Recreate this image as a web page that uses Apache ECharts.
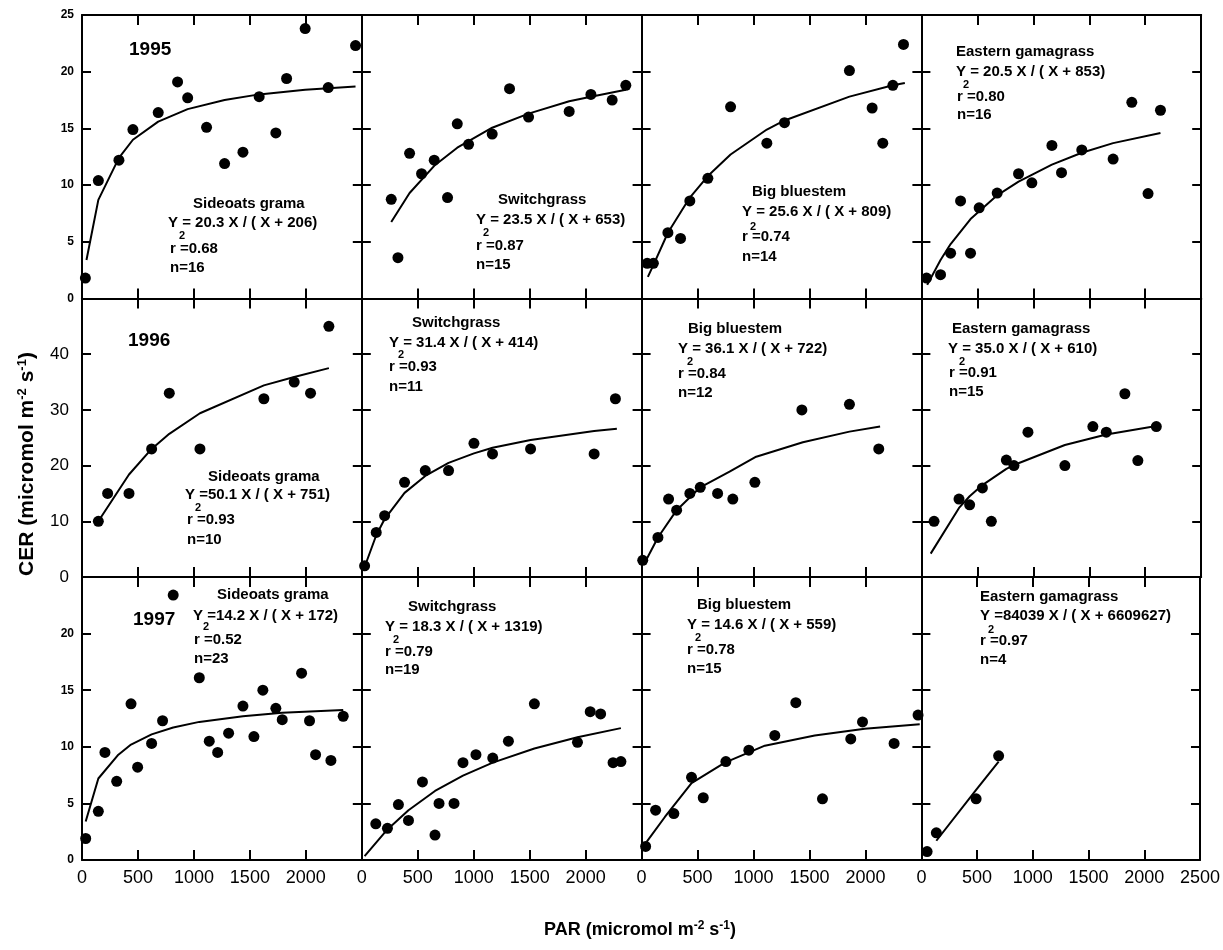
<!DOCTYPE html>
<html><head><meta charset="utf-8">
<script src="https://cdn.jsdelivr.net/npm/echarts@6/dist/echarts.min.js"></script>
<style>html,body{margin:0;padding:0;background:#fff}#c{width:1223px;height:950px}</style>
</head><body><div id="c"></div>
<script>
// ---------- DATA ----------
// 1995
const sg95X = [30, 146, 330, 455, 681, 854, 944, 1113, 1274, 1438, 1583, 1732, 1828, 1994, 2200, 2444];
const sg95Y = [1.8, 10.4, 12.2, 14.9, 16.4, 19.1, 17.7, 15.1, 11.9, 12.9, 17.8, 14.6, 19.4, 23.8, 18.6, 22.3];
const sg95FitX = [40, 146, 330, 455, 681, 944, 1274, 1583, 1994, 2444];
const sg95FitY = [3.4, 8.7, 12.4, 14.0, 15.6, 16.7, 17.5, 18.0, 18.4, 18.7];

const sw95X = [263, 323, 427, 534, 647, 766, 853, 954, 1165, 1320, 1490, 1853, 2047, 2237, 2359];
const sw95Y = [8.75, 3.6, 12.8, 11.0, 12.2, 8.9, 15.4, 13.6, 14.5, 18.5, 16.0, 16.5, 18.0, 17.5, 18.8];
const sw95FitX = [263, 427, 647, 853, 1165, 1490, 1853, 2047, 2359];
const sw95FitY = [6.75, 9.3, 11.7, 13.3, 15.06, 16.3, 17.4, 17.8, 18.4];

const bb95X = [50, 105, 235, 348, 431, 592, 795, 1119, 1277, 1857, 2060, 2155, 2245, 2340];
const bb95Y = [3.1, 3.1, 5.8, 5.3, 8.6, 10.6, 16.9, 13.7, 15.5, 20.1, 16.8, 13.7, 18.8, 22.4];
const bb95FitX = [56, 105, 235, 431, 592, 795, 1119, 1277, 1857, 2245, 2352];
const bb95FitY = [1.9, 2.95, 5.8, 8.9, 10.8, 12.7, 14.9, 15.7, 17.8, 18.8, 19.0];

const eg95X = [46, 171, 261, 350, 439, 516, 677, 868, 987, 1166, 1252, 1433, 1713, 1880, 2025, 2136];
const eg95Y = [1.8, 2.1, 4.0, 8.6, 4.0, 8.0, 9.3, 11.0, 10.2, 13.5, 11.1, 13.1, 12.3, 17.3, 9.25, 16.6];
const eg95FitX = [52, 171, 261, 439, 677, 868, 1166, 1433, 1713, 2136];
const eg95FitY = [1.2, 3.4, 4.8, 7.0, 9.1, 10.3, 11.8, 12.85, 13.7, 14.6];

// 1996
const sg96X = [146, 229, 420, 622, 780, 1054, 1625, 1896, 2042, 2206];
const sg96Y = [10, 15, 15, 23, 33, 23, 32, 35, 33, 45];
const sg96FitX = [146, 420, 622, 780, 1054, 1625, 1896, 2206];
const sg96FitY = [10, 18.4, 23, 25.7, 29.4, 34.4, 35.9, 37.5];

const sw96X = [25, 129, 204, 382, 567, 775, 1002, 1168, 1508, 2076, 2266];
const sw96Y = [2.0, 8.0, 11.0, 17.0, 19.1, 19.1, 24.0, 22.1, 23.0, 22.1, 32.0];
const sw96FitX = [25, 129, 204, 382, 567, 775, 1002, 1168, 1508, 2076, 2279];
const sw96FitY = [1.8, 7.5, 10.4, 15.1, 18.15, 20.5, 22.2, 23.2, 24.6, 26.2, 26.6];

const bb96X = [10, 146, 241, 313, 431, 524, 679, 815, 1012, 1432, 1857, 2119];
const bb96Y = [3, 7.1, 14, 12, 15, 16.1, 15, 14, 17, 30, 31, 23];
const bb96FitX = [27, 146, 313, 524, 786, 1024, 1441, 1857, 2131];
const bb96FitY = [2.5, 7.1, 12.0, 16.1, 18.9, 21.6, 24.2, 26.1, 27.0];

const eg96X = [113, 336, 431, 545, 625, 759, 827, 952, 1282, 1532, 1652, 1818, 1934, 2099];
const eg96Y = [10, 14, 12.95, 16, 10, 21, 20, 26, 20, 27, 26, 32.9, 20.9, 27];
const eg96FitX = [83, 336, 431, 545, 759, 827, 1282, 1652, 2099];
const eg96FitY = [4.2, 12.4, 14.5, 16.5, 19.4, 20.1, 23.7, 25.6, 27.1];

// 1997
const sg97X = [33, 146, 205, 310, 438, 497, 622, 720, 815, 1048, 1137, 1212, 1310, 1438, 1536, 1616, 1732, 1789, 1962, 2033, 2087, 2224, 2334];
const sg97Y = [1.9, 4.3, 9.5, 6.95, 13.8, 8.2, 10.3, 12.3, 23.4, 16.1, 10.5, 9.5, 11.2, 13.6, 10.9, 15.0, 13.4, 12.4, 16.5, 12.3, 9.3, 8.8, 12.7];
const sg97FitX = [33, 146, 325, 438, 622, 815, 1048, 1438, 1789, 2334];
const sg97FitY = [3.4, 7.2, 9.3, 10.2, 11.1, 11.7, 12.2, 12.7, 13.0, 13.25];

const sw97X = [125, 229, 327, 417, 542, 654, 690, 824, 904, 1020, 1170, 1310, 1542, 1927, 2041, 2134, 2245, 2315];
const sw97Y = [3.2, 2.8, 4.9, 3.5, 6.9, 2.2, 5.0, 5.0, 8.6, 9.3, 9.0, 10.5, 13.8, 10.4, 13.1, 12.9, 8.6, 8.7];
const sw97FitX = [25, 229, 417, 654, 904, 1170, 1542, 1927, 2315];
const sw97FitY = [0.35, 2.7, 4.4, 6.1, 7.45, 8.6, 9.85, 10.85, 11.65];

const bb97X = [36, 125, 288, 446, 551, 753, 958, 1190, 1378, 1616, 1869, 1974, 2256, 2470];
const bb97Y = [1.2, 4.4, 4.1, 7.3, 5.5, 8.7, 9.7, 11.0, 13.9, 5.4, 10.7, 12.2, 10.3, 12.8];
const bb97FitX = [45, 208, 446, 744, 1101, 1547, 1994, 2485];
const bb97FitY = [1.6, 3.8, 6.8, 8.6, 10.1, 11.0, 11.6, 12.0];

const eg97X = [51, 134, 491, 693];
const eg97Y = [0.74, 2.4, 5.4, 9.2];
const eg97FitX = [134, 491, 693];
const eg97FitY = [1.7, 6.2, 8.7];

// axis ticks
const xTicks = [0, 500, 1000, 1500, 2000, 2500];
const rowYMax = [25, 50, 25];
const rowYStep = [5, 10, 5];
const years = ['1995', '1996', '1997'];

// annotation texts
const speciesNames = ['Sideoats grama', 'Switchgrass', 'Big bluestem', 'Eastern gamagrass'];
const equations = ['Y = 20.3 X / ( X + 206)', 'Y = 23.5 X / ( X + 653)', 'Y = 25.6 X / ( X + 809)', 'Y = 20.5 X / ( X + 853)',
  'Y =50.1 X / ( X + 751)', 'Y = 31.4 X / ( X + 414)', 'Y = 36.1 X / ( X + 722)', 'Y = 35.0 X / ( X + 610)',
  'Y =14.2 X / ( X + 172)', 'Y = 18.3 X / ( X + 1319)', 'Y = 14.6 X / ( X + 559)', 'Y =84039 X / ( X + 6609627)'];
const rSquared = ['r =0.68', 'r =0.87', 'r =0.74', 'r =0.80', 'r =0.93', 'r =0.93', 'r =0.84', 'r =0.91', 'r =0.52', 'r =0.79', 'r =0.78', 'r =0.97'];
const nCounts = ['n=16', 'n=15', 'n=14', 'n=16', 'n=10', 'n=11', 'n=12', 'n=15', 'n=23', 'n=19', 'n=15', 'n=4'];

// ---------- LAYOUT ----------
const FONT = '"Liberation Sans", Arial, sans-serif';
const colLeft = [82, 361.8, 641.6, 921.4];
const colW = 279.8;
const rowTop = [15, 298.5, 577];
const rowBot = [298.5, 577, 860];
// [nameX, nameY, eqX, eqY, supX, supY, rX, rY, nY]
const annoPos = [
  [193, 204, 168, 223, 179, 236, 170, 249, 268],
  [498, 200, 476, 220, 483, 233, 476, 246, 265],
  [752, 192, 742, 212, 750, 227, 742, 237, 257],
  [956, 52, 956, 72, 963, 85, 957, 97, 115],
  [208, 477, 185, 495, 195, 508, 187, 520, 540],
  [412, 323, 389, 343, 398, 355, 389, 367, 387],
  [688, 329, 678, 349, 687, 362, 678, 374, 393],
  [952, 329, 948, 349, 959, 362, 949, 373, 392],
  [217, 595, 193, 616, 203, 627, 194, 640, 659],
  [408, 607, 385, 627, 393, 640, 385, 652, 670],
  [697, 605, 687, 625, 695, 638, 687, 650, 669],
  [980, 597, 980, 616, 988, 630, 980, 641, 660]
];
const yearPos = [[129, 50], [128, 341], [133, 620]];

const panels = [
  [sg95X, sg95Y, sg95FitX, sg95FitY], [sw95X, sw95Y, sw95FitX, sw95FitY], [bb95X, bb95Y, bb95FitX, bb95FitY], [eg95X, eg95Y, eg95FitX, eg95FitY],
  [sg96X, sg96Y, sg96FitX, sg96FitY], [sw96X, sw96Y, sw96FitX, sw96FitY], [bb96X, bb96Y, bb96FitX, bb96FitY], [eg96X, eg96Y, eg96FitX, eg96FitY],
  [sg97X, sg97Y, sg97FitX, sg97FitY], [sw97X, sw97Y, sw97FitX, sw97FitY], [bb97X, bb97Y, bb97FitX, bb97FitY], [eg97X, eg97Y, eg97FitX, eg97FitY]
];

const grid = [], xAxis = [], yAxis = [], series = [], graphic = [];
const lineStyle = { color: '#000', width: 2 };
const tickStyle = { color: '#000', width: 2 };
const plain = v => String(v);

for (let r = 0; r < 3; r++) {
  for (let c = 0; c < 4; c++) {
    const i = r * 4 + c;
    grid.push({ left: colLeft[c], top: rowTop[r], width: colW, height: rowBot[r] - rowTop[r] });
    const xBase = { gridIndex: i, type: 'value', min: xTicks[0], max: xTicks[xTicks.length - 1], interval: xTicks[1] - xTicks[0],
      axisLine: { show: true, onZero: false, lineStyle: lineStyle }, splitLine: { show: false },
      axisTick: { show: true, inside: true, length: 10, lineStyle: tickStyle } };
    xAxis.push(Object.assign({}, xBase, { position: 'bottom',
      axisLabel: { show: r === 2, color: '#000', fontFamily: FONT, fontSize: 18, margin: 9, showMaxLabel: c === 3, formatter: plain } }));
    xAxis.push(Object.assign({}, xBase, { position: 'top', axisLabel: { show: false } }));
    const yBase = { gridIndex: i, type: 'value', min: 0, max: rowYMax[r], interval: rowYStep[r],
      axisLine: { show: true, onZero: false, lineStyle: lineStyle }, splitLine: { show: false },
      axisTick: { show: true, inside: true, length: 9, lineStyle: tickStyle } };
    const yLab = r === 1
      ? { show: c === 0, color: '#000', fontFamily: FONT, fontSize: 17, margin: 13, showMaxLabel: false, formatter: plain }
      : { show: c === 0, color: '#000', fontFamily: FONT, fontSize: 12, fontWeight: 'bold', margin: 8, showMaxLabel: r === 0, formatter: plain };
    yAxis.push(Object.assign({}, yBase, { position: 'left', axisLabel: yLab }));
    yAxis.push(Object.assign({}, yBase, { position: 'right', axisLabel: { show: false } }));

    const p = panels[i];
    series.push({ type: 'line', xAxisIndex: i * 2, yAxisIndex: i * 2, data: p[2].map((x, k) => [x, p[3][k]]),
      showSymbol: false, symbol: 'none', lineStyle: { color: '#000', width: 2, opacity: 1 }, z: 3, silent: true });
    series.push({ type: 'scatter', xAxisIndex: i * 2, yAxisIndex: i * 2, data: p[0].map((x, k) => [x, p[1][k]]),
      symbol: 'circle', symbolSize: 11, itemStyle: { color: '#000', opacity: 1 }, z: 4, silent: true });

    // annotations
    const a = annoPos[i];
    const txt = (t, x, y, size) => ({ type: 'text', x: x, y: y, z: 10,
      style: { text: t, fill: '#000', font: 'bold ' + size + 'px ' + FONT, align: 'left', verticalAlign: 'middle' } });
    graphic.push(txt(speciesNames[c], a[0], a[1], 15));
    graphic.push(txt(equations[i], a[2], a[3], 15));
    graphic.push(txt('2', a[4], a[5], 11));
    graphic.push(txt(rSquared[i], a[6], a[7], 15));
    graphic.push(txt(nCounts[i], a[6], a[8], 15));
  }
  graphic.push({ type: 'text', x: yearPos[r][0], y: yearPos[r][1], z: 10,
    style: { text: years[r], fill: '#000', font: 'bold 19px ' + FONT, align: 'left', verticalAlign: 'middle' } });
}

const makeRich = (big, small, lift) => ({
  a: { fontFamily: FONT, fontSize: big, fontWeight: 'bold', fill: '#000', color: '#000' },
  s: { fontFamily: FONT, fontSize: small, fontWeight: 'bold', fill: '#000', color: '#000', verticalAlign: 'top', padding: [0, 0, lift, 0] }
});
graphic.push({ type: 'text', x: 640, y: 930, z: 10,
  style: { text: '{a|PAR (micromol m}{s|-2}{a| s}{s|-1}{a|)}', rich: makeRich(18, 12, 8), align: 'center', verticalAlign: 'middle' } });
graphic.push({ type: 'text', x: 27, y: 464, rotation: Math.PI / 2, z: 10,
  style: { text: '{a|CER (micromol m}{s|-2}{a| s}{s|-1}{a|)}', rich: makeRich(21, 13, 10), align: 'center', verticalAlign: 'middle' } });

const chart = echarts.init(document.getElementById('c'), null, { renderer: 'canvas' });
chart.setOption({ backgroundColor: '#fff', animation: false, grid, xAxis, yAxis, series, graphic });
</script>
</body></html>
